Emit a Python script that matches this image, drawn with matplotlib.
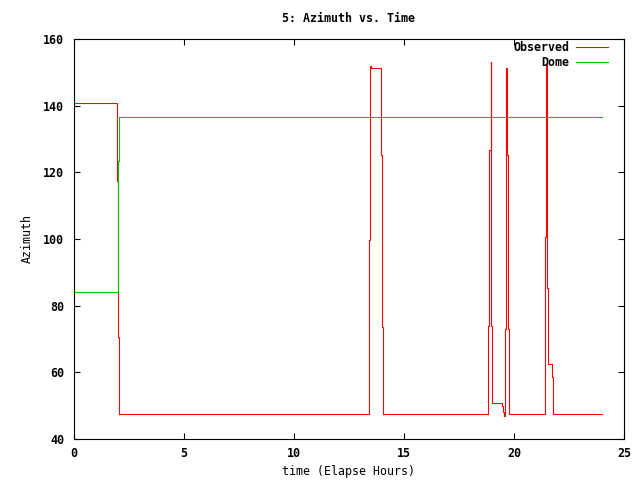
import matplotlib
matplotlib.use("Agg")
import matplotlib.pyplot as plt

# values (time in hours, azimuth in degrees)
t_obs = [0.0, 1.97, 1.97, 2.00, 2.00, 1.98, 1.98, 2.06, 2.06,
         13.42, 13.42, 13.46, 13.46, 13.50, 13.50, 13.97, 13.97, 14.01, 14.01, 14.06, 14.06,
         18.83, 18.83, 18.88, 18.88, 18.94, 18.94, 18.96, 18.96, 18.97, 18.97, 18.99, 18.99,
         19.45, 19.45, 19.51, 19.51, 19.56, 19.56, 19.58, 19.58, 19.62, 19.62, 19.65, 19.65,
         19.68, 19.68, 19.71, 19.71, 19.76, 19.76,
         21.42, 21.42, 21.47, 21.47, 21.49, 21.49, 21.51, 21.51, 21.55, 21.55, 21.74, 21.74,
         21.77, 21.77, 24.0]
az_obs = [140.7, 140.7, 117.5, 117.5, 97.0, 97.0, 70.7, 70.7, 47.5,
          47.5, 99.7, 99.7, 151.9, 151.9, 151.2, 151.2, 125.2, 125.2, 73.6, 73.6, 47.5,
          47.5, 73.9, 73.9, 126.7, 126.7, 153.1, 153.1, 102.2, 102.2, 73.9, 73.9, 50.9,
          50.9, 50.0, 50.0, 48.2, 48.2, 46.8, 46.8, 73.0, 73.0, 125.2, 125.2, 151.3,
          151.3, 125.2, 125.2, 73.0, 73.0, 47.5,
          47.5, 100.6, 100.6, 152.2, 152.2, 130.9, 130.9, 85.4, 85.4, 62.5, 62.5, 58.7,
          58.7, 47.5, 47.5]

t_dome = [0.0, 2.00, 2.00, 2.04, 2.04, 24.0]
az_dome = [84.0, 84.0, 123.4, 123.4, 136.5, 136.5]

plt.rcParams['font.family'] = ['DejaVu Sans Mono']
plt.rcParams['font.weight'] = 'bold'
plt.rcParams['font.size'] = 8.4

fig = plt.figure(figsize=(6.4, 4.8), dpi=100)
ax = fig.add_axes([74/640, 1 - 439/480, 550/640, 400/480])

ax.plot(t_obs, az_obs, color='#ff0000', lw=0.8, label='Observed')
ax.plot(t_dome, az_dome, color='#00c000', lw=0.8, label='Dome')

ax.set_xlim(0, 25)
ax.set_ylim(40, 160)
ax.set_xticks(range(0, 26, 5))
ax.set_yticks(range(40, 161, 20))
ax.tick_params(direction='in', length=4, width=0.8, top=True, right=True)
ax.tick_params(axis='y', pad=7)
ax.tick_params(axis='x', pad=6)
for s in ax.spines.values():
    s.set_linewidth(0.8)

ax.set_title('5: Azimuth vs. Time', pad=12, fontsize=8.4, fontweight='bold')
ax.set_xlabel('time (Elapse Hours)', labelpad=3)
ax.set_ylabel('Azimuth', labelpad=7)

ax.legend(loc='upper right', frameon=False, markerfirst=False,
          handlelength=2.7, handletextpad=0.55, labelspacing=0.15,
          borderaxespad=0.2, borderpad=0.0,
          bbox_to_anchor=(1 - 14/550, 1.0))

plt.savefig('out.png', dpi=100)
